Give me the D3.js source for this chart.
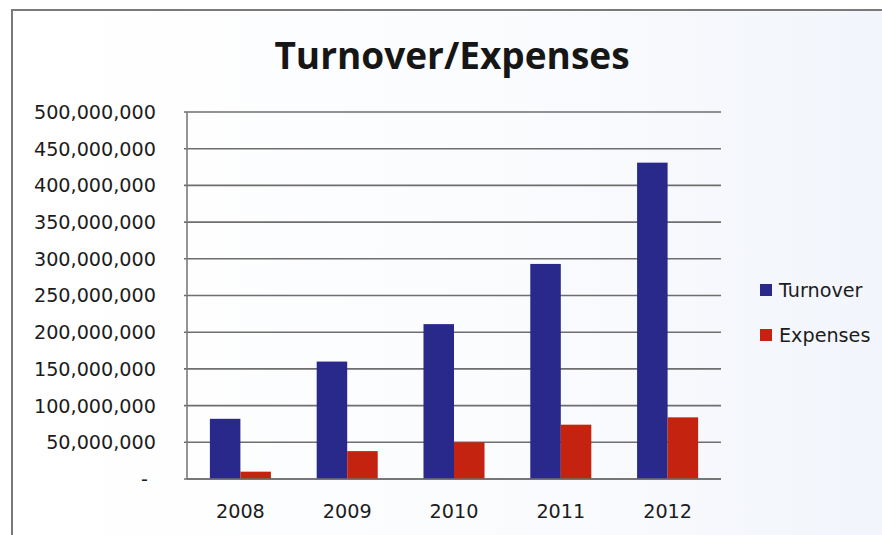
<!DOCTYPE html>
<html>
<head>
<meta charset="utf-8">
<script src="https://cdn.jsdelivr.net/npm/d3@7"></script>
<style>
  html, body { margin: 0; padding: 0; background: #ffffff; }
  svg { display: block; }
</style>
</head>
<body>
<svg id="chart" width="882" height="535"></svg>
<script>
// Yearly turnover and expenses
const years = ["2008", "2009", "2010", "2011", "2012"];
const seriesNames = ["Turnover", "Expenses"];
const turnover = [82000000, 160000000, 211000000, 293000000, 431000000];
const expenses = [10000000, 38000000, 50000000, 74000000, 84000000];
const yTicks = [0, 50000000, 100000000, 150000000, 200000000, 250000000,
                300000000, 350000000, 400000000, 450000000, 500000000];
const colors = ["#29298b", "#c3230f"];

const svg = d3.select("#chart");
const W = 882, H = 535;
const plot = { left: 187, right: 721, top: 112, bottom: 479 };
const labelFont = "'DejaVu Sans', sans-serif";
const labelSize = 19.2;

// Panel background and frame
const defs = svg.append("defs");
const grad = defs.append("linearGradient").attr("id", "bg")
  .attr("x1", "0").attr("x2", "1").attr("y1", "0").attr("y2", "0");
grad.append("stop").attr("offset", "0").attr("stop-color", "#ffffff");
grad.append("stop").attr("offset", "0.55").attr("stop-color", "#fbfcfe");
grad.append("stop").attr("offset", "1").attr("stop-color", "#f2f5fb");
svg.append("rect").attr("x", 12).attr("y", 10).attr("width", W - 12).attr("height", H - 10)
  .attr("fill", "url(#bg)");
svg.append("path")
  .attr("d", `M12,${H} L12,10 L${W},10`)
  .attr("fill", "none").attr("stroke", "#7a7a7a").attr("stroke-width", 2);

// Title
svg.append("text")
  .attr("x", 452).attr("y", 69)
  .attr("text-anchor", "middle")
  .attr("font-family", "'Open Sans', sans-serif")
  .attr("font-weight", 700)
  .attr("font-size", 37)
  .attr("fill", "#161616")
  .text("Turnover/Expenses");

// Scales
const x0 = d3.scaleBand().domain(years).range([plot.left, plot.right]).padding(0);
const x1 = d3.scaleBand().domain(seriesNames).range([0, x0.bandwidth()])
  .paddingInner(0).paddingOuter(0.75);
const y = d3.scaleLinear().domain([0, 500000000]).range([plot.bottom, plot.top]);

// Gridlines
svg.append("g").selectAll("line").data(yTicks).join("line")
  .attr("x1", plot.left - 3).attr("x2", plot.right)
  .attr("y1", d => y(d)).attr("y2", d => y(d))
  .attr("stroke", "#6e6e6e").attr("stroke-width", 1.6);

// Y axis line
svg.append("line")
  .attr("x1", plot.left).attr("x2", plot.left)
  .attr("y1", plot.top).attr("y2", plot.bottom)
  .attr("stroke", "#7a7a7a").attr("stroke-width", 1.6);

// Bars
const rows = years.map((yr, i) => ({ year: yr, values: [turnover[i], expenses[i]] }));
const groups = svg.append("g").selectAll("g").data(rows).join("g")
  .attr("transform", d => `translate(${x0(d.year)},0)`);
groups.selectAll("rect")
  .data(d => d.values.map((v, k) => ({ key: seriesNames[k], value: v, k })))
  .join("rect")
  .attr("x", d => x1(d.key))
  .attr("width", x1.bandwidth())
  .attr("y", d => y(d.value))
  .attr("height", d => y(0) - y(d.value))
  .attr("fill", d => colors[d.k]);

// Baseline redrawn over bars
svg.append("line")
  .attr("x1", plot.left).attr("x2", plot.right)
  .attr("y1", y(0)).attr("y2", y(0))
  .attr("stroke", "#6e6e6e").attr("stroke-width", 1.6);

// Y tick labels
const fmt = d3.format(",");
svg.append("g").selectAll("text").data(yTicks).join("text")
  .attr("x", d => d === 0 ? 148 : 156)
  .attr("y", d => y(d))
  .attr("dy", "0.36em")
  .attr("text-anchor", "end")
  .attr("font-family", labelFont)
  .attr("font-size", labelSize)
  .attr("fill", "#1c1c1c")
  .text(d => d === 0 ? "-" : fmt(d));

// X tick labels
svg.append("g").selectAll("text").data(years).join("text")
  .attr("x", d => x0(d) + x0.bandwidth() / 2)
  .attr("y", 518)
  .attr("text-anchor", "middle")
  .attr("font-family", labelFont)
  .attr("font-size", labelSize)
  .attr("fill", "#1c1c1c")
  .text(d => d);

// Legend
const legend = svg.append("g").selectAll("g").data(seriesNames).join("g")
  .attr("transform", (d, i) => `translate(760,${290 + i * 45})`);
legend.append("rect")
  .attr("x", 0).attr("y", -6).attr("width", 12).attr("height", 12)
  .attr("fill", (d, i) => colors[i]);
legend.append("text")
  .attr("x", 19).attr("y", 0).attr("dy", "0.36em")
  .attr("font-family", labelFont)
  .attr("font-size", labelSize)
  .attr("fill", "#1c1c1c")
  .text(d => d);
</script>
</body>
</html>
